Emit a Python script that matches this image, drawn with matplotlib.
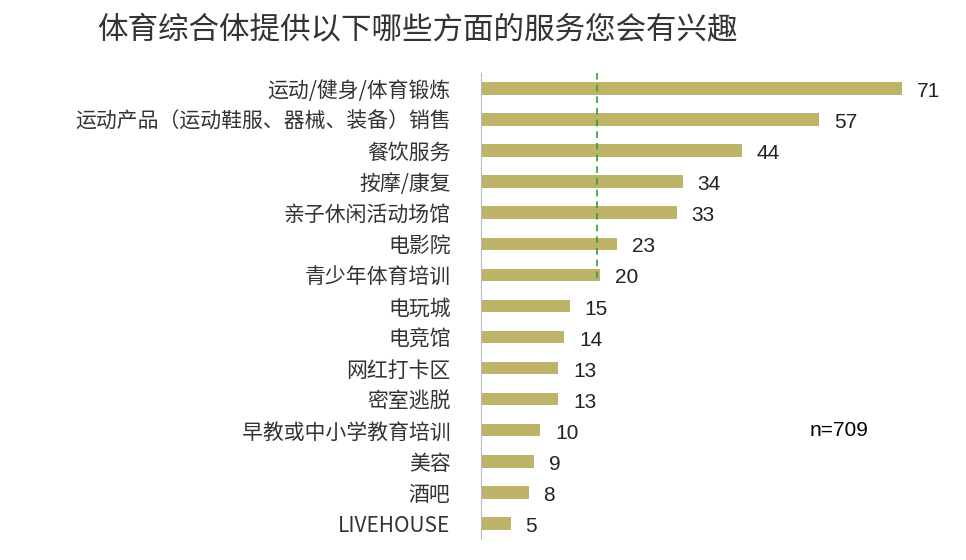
import matplotlib.pyplot as plt

plt.rcParams['font.family'] = ['Noto Sans CJK SC', 'DejaVu Sans']

categories = ['运动/健身/体育锻炼', '运动产品（运动鞋服、器械、装备）销售', '餐饮服务', '按摩/康复',
              '亲子休闲活动场馆', '电影院', '青少年体育培训', '电玩城', '电竞馆', '网红打卡区',
              '密室逃脱', '早教或中小学教育培训', '美容', '酒吧', 'LIVEHOUSE']
values = [71, 57, 44, 34, 33, 23, 20, 15, 14, 13, 13, 10, 9, 8, 5]
ref_line = 19.5

fig = plt.figure(figsize=(9.66, 5.6), dpi=100)
ax = fig.add_axes([0.498, 0.0375, 0.482, 0.8325])

y = list(range(len(values)))
ax.barh(y, values, height=0.4, color='#BDB46A')
for yi, v in zip(y, values):
    ax.text(v + 2.5, yi + 0.1, str(v), va='center', ha='left', fontsize=15,
            family=['Liberation Sans', 'DejaVu Sans'], color='#222222')
ax.plot([ref_line, ref_line], [-0.5, 6.2], color='#3A9A3A', linestyle=(0, (4, 3)), linewidth=1.2)

ax.set_yticks(y)
ax.set_yticklabels(categories, fontsize=15, color='#333333')
ax.set_ylim(len(values) - 0.5, -0.5)
ax.set_xlim(0, 78.5)
ax.set_xticks([])
for s in ['top', 'right', 'bottom']:
    ax.spines[s].set_visible(False)
ax.spines['left'].set_color('#BBBBBB')
ax.tick_params(axis='y', length=0, pad=22)

ax.text(0.705, 0.22, 'n=709', transform=ax.transAxes, fontsize=15,
        family=['Liberation Sans', 'DejaVu Sans'])
fig.text(0.10, 0.93, '体育综合体提供以下哪些方面的服务您会有兴趣', fontsize=22, color='#333333')

fig.savefig('out.png')
